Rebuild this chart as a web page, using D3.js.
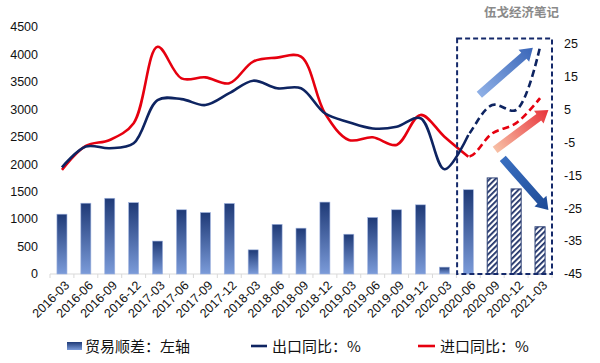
<!DOCTYPE html>
<html>
<head>
<meta charset="utf-8">
<script src="https://cdn.jsdelivr.net/npm/d3@7"></script>
<style>
  body { margin: 0; background: #fff; }
  svg { font-family: "Liberation Sans", Arial, "Noto Sans CJK SC", sans-serif; }
  .cjk { font-family: "Noto Sans CJK SC", sans-serif; }
</style>
</head>
<body>
<svg id="Vis" width="600" height="363"></svg>
<script>
// categories (quarter-end months)
const months = ["2016-03","2016-06","2016-09","2016-12","2017-03","2017-06","2017-09","2017-12",
  "2018-03","2018-06","2018-09","2018-12","2019-03","2019-06","2019-09","2019-12",
  "2020-03","2020-06","2020-09","2020-12","2021-03"];

// trade surplus, left axis
const surplus = [1090,1290,1380,1300,600,1170,1120,1285,440,905,835,1310,725,1030,1170,1260,
  125,1535,1750,1550,860];

// export / import yoy %, right axis
const exportYoy = [-12.6,-6.3,-6.8,-5.3,7.8,8.1,6.3,9.9,13.7,11.4,11.4,3.8,1.1,-0.8,-0.3,2.3,
  -13.2,-2.8,6.3,4.8,24.0];
const importYoy = [-13.4,-6.1,-4.3,0.8,24.0,14.4,14.7,12.9,19.5,20.7,21.0,3.8,-4.3,-3.5,-5.8,3.3,
  -3.3,-9.4,-2.3,0.8,8.4];

// first forecast point (dashed / hatched after it)
const forecastFrom = 17;

const leftTicks = [0,500,1000,1500,2000,2500,3000,3500,4000,4500];
const rightTicks = [-45,-35,-25,-15,-5,5,15,25];

// annotation arrows: [category index, right-axis value]
const arrows = [
  {from: [17.46, 9.4], to: [19.7, 23.7], c0: "#8fb0e6", c1: "#3a66b8"},
  {from: [18.12, -7.3], to: [20.35, 4.8], c0: "#f7c0a6", c1: "#e8323a"},
  {from: [18.44, -9.9], to: [20.35, -25.6], c0: "#3a6fc0", c1: "#1d4a96"}
];

const margin = {top: 27, bottom: 89, left: 50, right: 48};
const width = 600, height = 363;
const plotBottom = height - margin.bottom;

const svg = d3.select("svg#Vis");

/* SCALES */
const x = d3.scaleBand()
  .domain(months)
  .range([margin.left, width - margin.right])
  .paddingInner(0.58)
  .paddingOuter(0.29);

const cx = d => x(d) + x.bandwidth() / 2;
const idx = d3.scaleLinear().domain([0, months.length - 1])
  .range([cx(months[0]), cx(months[months.length - 1])]);

const yL = d3.scaleLinear().domain([0, 4500]).range([plotBottom, margin.top]);
const yR = d3.scaleLinear().domain([-45, 30]).range([plotBottom, margin.top]);

/* DEFS */
const defs = svg.append("defs");

const barGrad = defs.append("linearGradient").attr("id", "barGrad")
  .attr("x1", 0).attr("y1", 0).attr("x2", 0).attr("y2", 1);
barGrad.append("stop").attr("offset", "0%").attr("stop-color", "#1f3a77");
barGrad.append("stop").attr("offset", "100%").attr("stop-color", "#7b9bd9");

const hatch = defs.append("pattern").attr("id", "hatch")
  .attr("patternUnits", "userSpaceOnUse")
  .attr("width", 4).attr("height", 4)
  .attr("patternTransform", "rotate(45)");
hatch.append("rect").attr("width", 4).attr("height", 4).attr("fill", "#fff");
hatch.append("rect").attr("width", 1.8).attr("height", 4).attr("fill", "#1c2f66");

/* LEFT AXIS LABELS */
svg.append("g").selectAll("text")
  .data(leftTicks).enter().append("text")
  .attr("x", 38).attr("y", d => yL(d))
  .attr("dy", "0.35em")
  .attr("text-anchor", "end")
  .attr("font-size", 12.5)
  .attr("fill", "#111")
  .text(d => d);

/* RIGHT AXIS LABELS */
svg.append("g").selectAll("text")
  .data(rightTicks).enter().append("text")
  .attr("x", 564).attr("y", d => yR(d))
  .attr("dy", "0.35em")
  .attr("font-size", 12.5)
  .attr("fill", "#111")
  .text(d => d);

/* X AXIS */
const xAxis = svg.append("g");
xAxis.append("line")
  .attr("x1", margin.left).attr("x2", width - margin.right)
  .attr("y1", yL(0)).attr("y2", yL(0))
  .attr("stroke", "#d9d9d9");
xAxis.selectAll("line.tick")
  .data(d3.range(months.length + 1)).enter().append("line")
  .attr("class", "tick")
  .attr("x1", i => margin.left + i * x.step())
  .attr("x2", i => margin.left + i * x.step())
  .attr("y1", yL(0)).attr("y2", yL(0) + 4)
  .attr("stroke", "#d9d9d9");
xAxis.selectAll("text")
  .data(months).enter().append("text")
  .attr("transform", d => "translate(" + (cx(d) + 5) + "," + (yL(0) + 9) + ") rotate(-45)")
  .attr("text-anchor", "end")
  .attr("dy", "0.35em")
  .attr("font-size", 12.5)
  .attr("fill", "#111")
  .text(d => d);

/* BARS */
svg.append("g").selectAll("rect")
  .data(months).enter().append("rect")
  .attr("x", d => x(d))
  .attr("y", (d, i) => yL(surplus[i]))
  .attr("width", x.bandwidth())
  .attr("height", (d, i) => yL(0) - yL(surplus[i]))
  .attr("fill", (d, i) => i > forecastFrom ? "url(#hatch)" : "url(#barGrad)")
  .attr("stroke", (d, i) => i > forecastFrom ? "#2b3f75" : "#9fb3df")
  .attr("stroke-width", (d, i) => i > forecastFrom ? 1 : 0.6);

/* LINES */
const line = d3.line()
  .x(d => idx(d[0]))
  .y(d => yR(d[1]))
  .curve(d3.curveCatmullRom.alpha(0.5));

function drawSeries(values, color, key) {
  const pts = values.map((v, i) => [i, v]);
  svg.append("path")
    .datum(pts.slice(0, forecastFrom + 1))
    .attr("d", line)
    .attr("fill", "none")
    .attr("stroke", color)
    .attr("stroke-width", 2.6);
  // dashed forecast part: start one point earlier for a smooth join, clip it off
  defs.append("clipPath").attr("id", "clip-" + key)
    .append("rect")
    .attr("x", idx(forecastFrom)).attr("y", 0)
    .attr("width", width).attr("height", height);
  svg.append("path")
    .datum(pts.slice(forecastFrom - 1))
    .attr("d", line)
    .attr("clip-path", "url(#clip-" + key + ")")
    .attr("fill", "none")
    .attr("stroke", color)
    .attr("stroke-width", 2.6)
    .attr("stroke-dasharray", "7,4");
}
drawSeries(importYoy, "#e6000f", "imp");
drawSeries(exportYoy, "#0e2461", "exp");

/* FORECAST BOX */
const boxLeft = cx(months[forecastFrom]) - x.step() * 0.47;
svg.append("rect")
  .attr("x", boxLeft)
  .attr("y", yR(26.5))
  .attr("width", (width - margin.right) - boxLeft)
  .attr("height", yR(-45) - yR(26.5))
  .attr("fill", "none")
  .attr("stroke", "#14296a")
  .attr("stroke-width", 2)
  .attr("stroke-dasharray", "5,3");

/* ARROWS */
arrows.forEach((a, k) => {
  const x0 = idx(a.from[0]), y0 = yR(a.from[1]);
  const x1 = idx(a.to[0]), y1 = yR(a.to[1]);
  const len = Math.hypot(x1 - x0, y1 - y0);
  const ang = Math.atan2(y1 - y0, x1 - x0) * 180 / Math.PI;
  const g = defs.append("linearGradient").attr("id", "arrowGrad" + k)
    .attr("gradientUnits", "userSpaceOnUse")
    .attr("x1", 0).attr("y1", 0).attr("x2", len).attr("y2", 0);
  g.append("stop").attr("offset", "0%").attr("stop-color", a.c0);
  g.append("stop").attr("offset", "100%").attr("stop-color", a.c1);
  const sw = 4, hw = 8, hl = 12;
  const pts = [[0, -sw], [len - hl, -sw], [len - hl, -hw], [len, 0], [len - hl, hw], [len - hl, sw], [0, sw]];
  svg.append("polygon")
    .attr("points", pts.map(p => p.join(",")).join(" "))
    .attr("transform", "translate(" + x0 + "," + y0 + ") rotate(" + ang + ")")
    .attr("fill", "url(#arrowGrad" + k + ")");
});

/* WATERMARK */
svg.append("text")
  .attr("class", "cjk")
  .attr("x", 559).attr("y", 17)
  .attr("text-anchor", "end")
  .attr("font-size", 12.5)
  .attr("font-weight", "bold")
  .attr("fill", "#8a8a8a")
  .text("伍戈经济笔记");

/* LEGEND */
const legend = svg.append("g").attr("class", "cjk");
legend.append("rect")
  .attr("x", 67).attr("y", 342).attr("width", 15).attr("height", 8)
  .attr("fill", "url(#barGrad)");
legend.append("text").attr("x", 85).attr("y", 347).attr("dy", "0.35em")
  .attr("font-size", 15).attr("fill", "#111").text("贸易顺差：左轴");
legend.append("line")
  .attr("x1", 251).attr("x2", 267).attr("y1", 346).attr("y2", 346)
  .attr("stroke", "#0e2461").attr("stroke-width", 2.6);
legend.append("text").attr("x", 272).attr("y", 347).attr("dy", "0.35em")
  .attr("font-size", 15).attr("fill", "#111").text("出口同比：%");
legend.append("line")
  .attr("x1", 418).attr("x2", 435).attr("y1", 346).attr("y2", 346)
  .attr("stroke", "#e6000f").attr("stroke-width", 2.6);
legend.append("text").attr("x", 440).attr("y", 347).attr("dy", "0.35em")
  .attr("font-size", 15).attr("fill", "#111").text("进口同比：%");
</script>
</body>
</html>
